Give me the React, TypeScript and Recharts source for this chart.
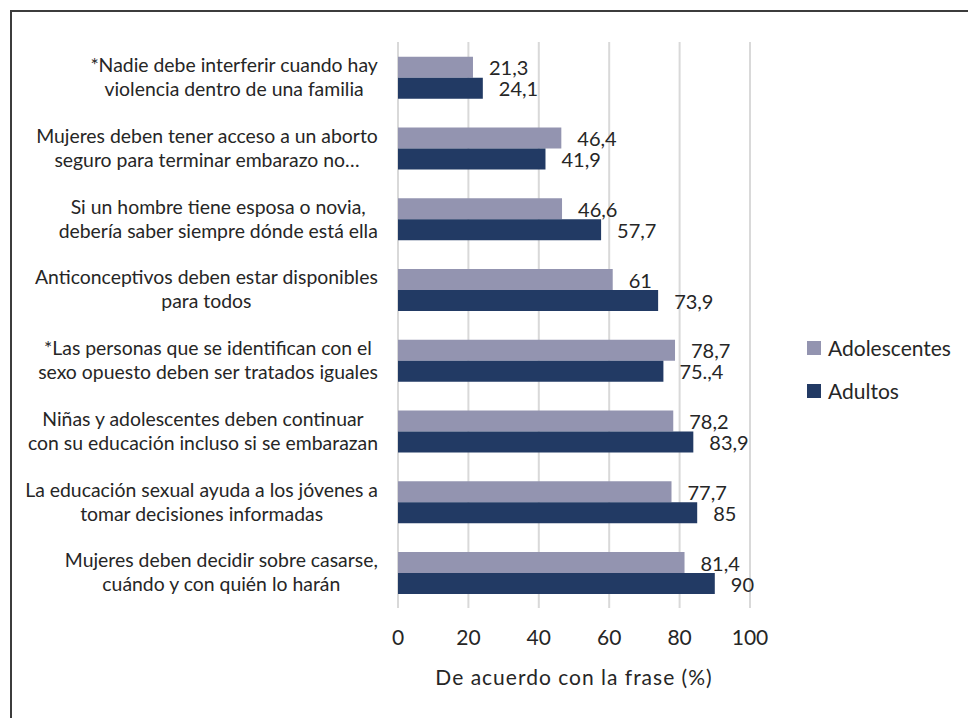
import React from "react";
import { BarChart, Bar, XAxis, YAxis, CartesianGrid, Legend, LabelList, Label } from "recharts";

const categories = [
  "*Nadie debe interferir cuando hay\nviolencia dentro de una familia",
  "Mujeres deben tener acceso a un aborto\nseguro para terminar embarazo no…",
  "Si un hombre tiene esposa o novia,\ndebería saber siempre dónde está ella",
  "Anticonceptivos deben estar disponibles\npara todos",
  "*Las personas que se identifican con el\nsexo opuesto deben ser tratados iguales",
  "Niñas y adolescentes deben continuar\ncon su educación incluso si se embarazan",
  "La educación sexual ayuda a los jóvenes a\ntomar decisiones informadas",
  "Mujeres deben decidir sobre casarse,\ncuándo y con quién lo harán",
];
const adolescentes = [21.3, 46.4, 46.6, 61, 78.7, 78.2, 77.7, 81.4];
const adultos = [24.1, 41.9, 57.7, 73.9, 75.4, 83.9, 85, 90];
const adolescentesLabels = ["21,3", "46,4", "46,6", "61", "78,7", "78,2", "77,7", "81,4"];
const adultosLabels = ["24,1", "41,9", "57,7", "73,9", "75.,4", "83,9", "85", "90"];
const xTicks = [0, 20, 40, 60, 80, 100];
const seriesNames = ["Adolescentes", "Adultos"];

const GRAY = "#9394B0";
const NAVY = "#223A64";
const TEXT = "#262626";
const FONT = "Lato, 'Open Sans', sans-serif";
const CAT_SIZE = 19.4;

const data = categories.map((c, i) => ({
  cat: c,
  adol: adolescentes[i],
  adul: adultos[i],
  adolLabel: adolescentesLabels[i],
  adulLabel: adultosLabels[i],
}));

let ctx: CanvasRenderingContext2D | null = null;
function measure(t: string, size: number) {
  if (!ctx) {
    const c = document.createElement("canvas");
    ctx = c.getContext("2d");
  }
  if (!ctx) return t.length * size * 0.5;
  ctx.font = `${size}px Lato`;
  return ctx.measureText(t).width;
}

const CatTick = (props: any) => {
  const { x, y, payload } = props;
  const lines = String(payload.value).split("\n");
  const w = Math.max(...lines.map((l) => measure(l, CAT_SIZE)));
  const cx = x - w / 2;
  const lh = 24;
  const start = y - ((lines.length - 1) * lh) / 2;
  return (
    <text x={cx} y={start} textAnchor="middle" fill={TEXT} fontSize={CAT_SIZE} fontFamily={FONT}>
      {lines.map((l, i) => (
        <tspan key={i} x={cx} y={start + i * lh} dy="0.35em">
          {l}
        </tspan>
      ))}
    </text>
  );
};

const NumTick = (props: any) => {
  const { x, y, payload } = props;
  return (
    <text x={x} y={y + 28} dy="0.35em" textAnchor="middle" fill={TEXT} fontSize={21} fontFamily={FONT}>
      {payload.value}
    </text>
  );
};

const makeLabel = (key: string) => (props: any) => {
  const { x, y, width, height, index } = props;
  const text = data[index][key];
  return (
    <text x={x + width + 16} y={y + height / 2 + 1} dy="0.35em" textAnchor="start" fill={TEXT} fontSize={20} fontFamily={FONT}>
      {text}
    </text>
  );
};

const LegendContent = () => (
  <div style={{ fontFamily: FONT, fontSize: 21, color: TEXT }}>
    {[GRAY, NAVY].map((c, i) => (
      <div key={i} style={{ display: "flex", alignItems: "center", height: 43 }}>
        <div style={{ width: 14, height: 14, background: c, marginRight: 7 }} />
        <span>{seriesNames[i]}</span>
      </div>
    ))}
  </div>
);

export default function App() {
  return (
    <div style={{ position: "absolute", left: 0, top: 0, width: 968, height: 718, background: "#fff", overflow: "hidden" }}>
      <div
        style={{
          position: "absolute",
          left: 10,
          top: 10,
          width: 958,
          height: 708,
          borderLeft: "2px solid #3c3c3c",
          borderTop: "2px solid #3c3c3c",
          boxSizing: "border-box",
        }}
      />
      <div style={{ position: "absolute", left: 0, top: 0 }}>
        <BarChart
          width={968}
          height={718}
          data={data}
          layout="vertical"
          margin={{ top: 42, right: 58, bottom: 20, left: 0 }}
          barCategoryGap="21%"
          barGap={0}
        >
          <CartesianGrid horizontal={false} stroke="#d9d9d9" strokeWidth={2} />
          <XAxis
            type="number"
            domain={[0, 100]}
            ticks={xTicks}
            axisLine={false}
            tickLine={false}
            tickSize={0}
            height={90}
            tick={<NumTick />}
            interval={0}
          >
            <Label
              content={(p: any) => {
                const vb = p.viewBox;
                return (
                  <text x={vb.x + vb.width / 2} y={vb.y + 70} dy="0.35em" textAnchor="middle" fill={TEXT} fontSize={21} letterSpacing={1} fontFamily={FONT}>
                    De acuerdo con la frase (%)
                  </text>
                );
              }}
            />
          </XAxis>
          <YAxis
            type="category"
            dataKey="cat"
            width={398}
            axisLine={false}
            tickLine={false}
            tickSize={0}
            tickMargin={20}
            tick={<CatTick />}
            interval={0}
          />
          <Legend
            layout="vertical"
            align="right"
            verticalAlign="middle"
            content={<LegendContent />}
            wrapperStyle={{ left: 807, top: 326, width: 160 }}
          />
          <Bar dataKey="adol" name={seriesNames[0]} fill={GRAY} isAnimationActive={false}>
            <LabelList dataKey="adolLabel" content={makeLabel("adolLabel")} />
          </Bar>
          <Bar dataKey="adul" name={seriesNames[1]} fill={NAVY} isAnimationActive={false}>
            <LabelList dataKey="adulLabel" content={makeLabel("adulLabel")} />
          </Bar>
        </BarChart>
      </div>
    </div>
  );
}
